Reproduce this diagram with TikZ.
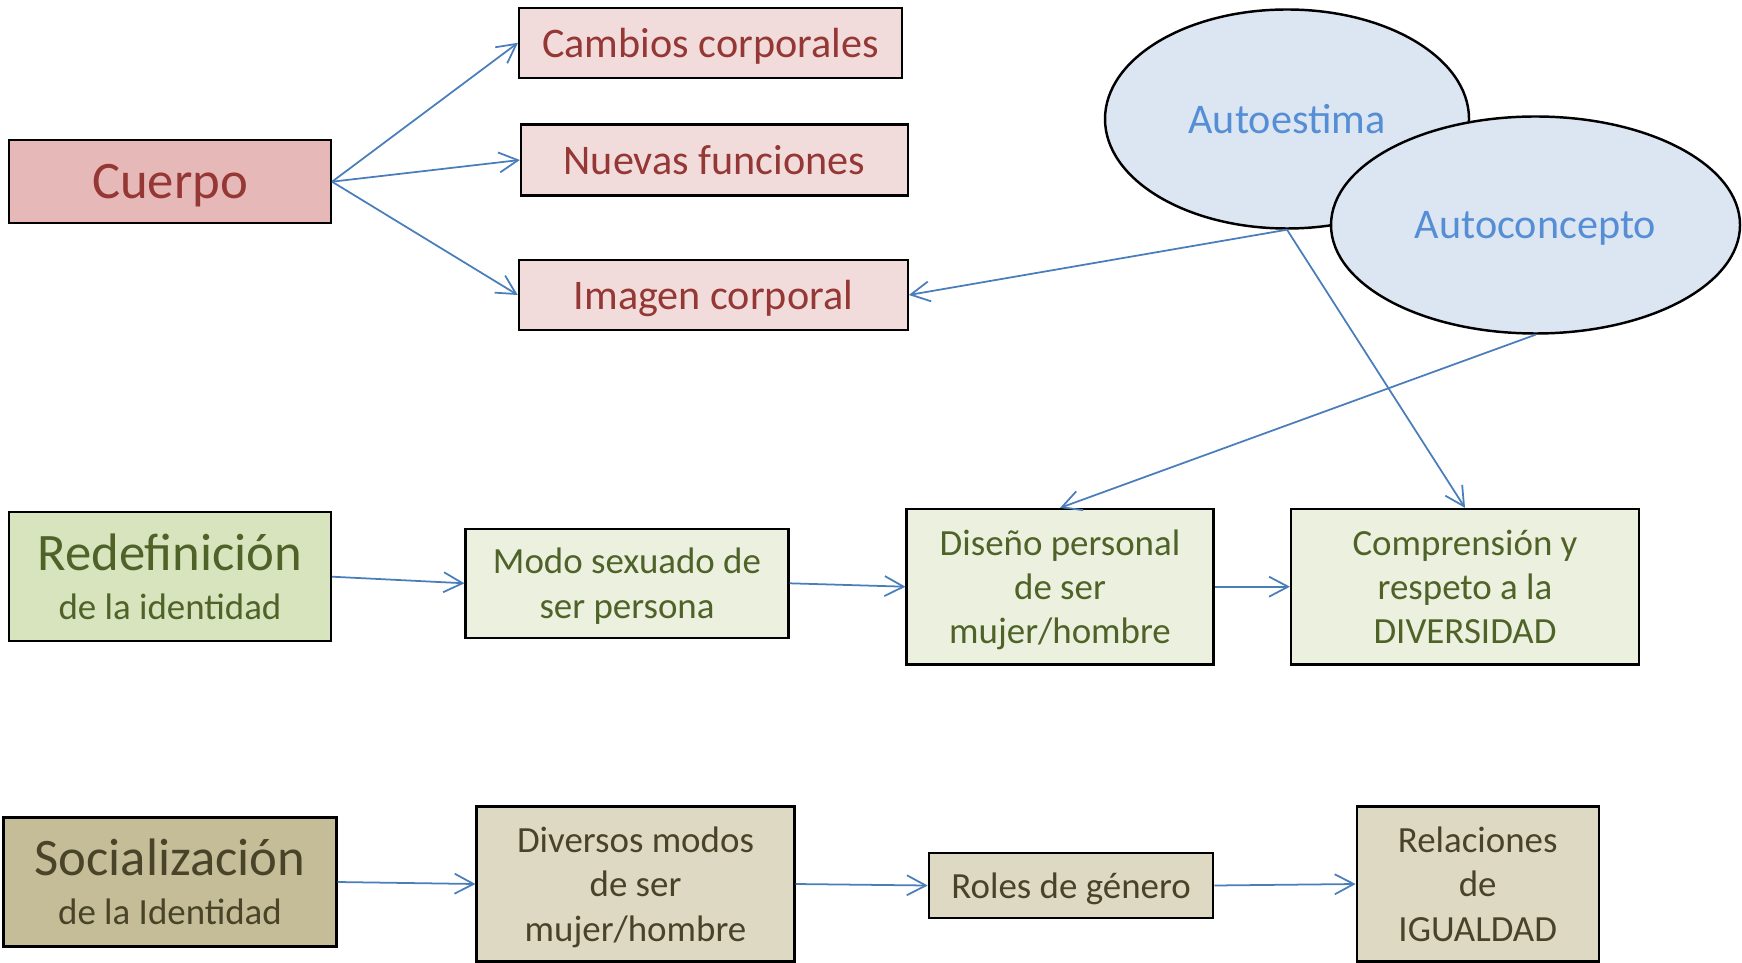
\documentclass[tikz,border=0pt]{standalone}
\usepackage{fontspec}
\setmainfont{Carlito}
\usetikzlibrary{shapes.geometric,arrows.meta}

\definecolor{rosafuerte}{HTML}{E6B9B8}
\definecolor{rosaclaro}{HTML}{F2DCDB}
\definecolor{rojotexto}{HTML}{953735}
\definecolor{verdefuerte}{HTML}{D7E4BD}
\definecolor{verdeclaro}{HTML}{EBF1DE}
\definecolor{verdetexto}{HTML}{4F6228}
\definecolor{tostadofuerte}{HTML}{C4BD97}
\definecolor{tostadoclaro}{HTML}{DDD9C3}
\definecolor{tostadotexto}{HTML}{494429}
\definecolor{azulrelleno}{HTML}{DCE6F2}
\definecolor{azultexto}{HTML}{558ED5}
\definecolor{azulflecha}{HTML}{4A7EBB}

\begin{document}
\begin{tikzpicture}[
    caja/.style={draw=black, line width=0.6pt, inner sep=0pt, align=center, text depth=0pt},
    grande/.style={font=\fontsize{15}{18}\selectfont},
    chico/.style={font=\fontsize{10.5}{12.6}\selectfont},
    rosa/.style={caja, fill=rosaclaro, text=rojotexto, font=\fontsize{12}{14.4}\selectfont},
    verde/.style={caja, chico, fill=verdeclaro, text=verdetexto},
    tostado/.style={caja, chico, fill=tostadoclaro, text=tostadotexto},
    burbuja/.style={ellipse, draw=black, line width=0.7pt, fill=azulrelleno, text=azultexto, inner sep=0pt, text depth=0pt, font=\fontsize{12}{14.4}\selectfont},
    flecha/.style={draw=azulflecha, line width=0.5pt, -{Straight Barb[length=1.9mm,width=2mm]}}
]
        \useasboundingbox (0,0) rectangle (17.42,-9.62);

        % Cuerpo and its boxes
        \node[caja, grande, fill=rosafuerte, text=rojotexto, minimum width=3.22cm, minimum height=0.83cm] (cuerpo) at (1.70,-1.817) {Cuerpo};
        \node[rosa, minimum width=3.83cm, minimum height=0.70cm] (cambios) at (7.105,-0.428) {Cambios corporales};
        \node[rosa, minimum width=3.87cm, minimum height=0.71cm] (nuevas) at (7.144,-1.60) {Nuevas funciones};
        \node[rosa, minimum width=3.89cm, minimum height=0.70cm] (imagen) at (7.133,-2.95) {Imagen corporal};

        % Autoestima and autoconcepto
        \node[burbuja, minimum width=3.64cm, minimum height=2.19cm] (autoestima) at (12.87,-1.19) {Autoestima};
        \node[burbuja, minimum width=4.09cm, minimum height=2.17cm] (autoconcepto) at (15.355,-2.25) {Autoconcepto};

        % Redefinicion de la identidad
        \node[caja, grande, fill=verdefuerte, text=verdetexto, minimum width=3.22cm, minimum height=1.29cm] (redefinicion) at (1.70,-5.767) {Redefinición\\[-4pt]{\fontsize{10.5}{12.6}\selectfont de la identidad}};
        \node[verde, minimum width=3.23cm, minimum height=1.09cm] (modo) at (6.27,-5.833) {Modo sexuado de\\ser persona};
        \node[verde, minimum width=3.07cm, minimum height=1.555cm] (diseno) at (10.60,-5.867) {Diseño personal\\de ser\\mujer/hombre};
        \node[verde, minimum width=3.48cm, minimum height=1.555cm] (comprension) at (14.65,-5.867) {Comprensión y\\respeto a la\\DIVERSIDAD};

        % Socializacion de la identidad
        \node[caja, grande, fill=tostadofuerte, text=tostadotexto, minimum width=3.33cm, minimum height=1.29cm] (socializacion) at (1.70,-8.82) {Socialización\\[-4pt]{\fontsize{10.5}{12.6}\selectfont de la Identidad}};
        \node[tostado, minimum width=3.18cm, minimum height=1.55cm] (diversos) at (6.355,-8.84) {Diversos modos\\de ser\\mujer/hombre};
        \node[tostado, minimum width=2.845cm, minimum height=0.644cm] (roles) at (10.71,-8.855) {Roles de género};
        \node[tostado, minimum width=2.42cm, minimum height=1.55cm] (relaciones) at (14.777,-8.84) {Relaciones\\de\\IGUALDAD};

        % Arrows from cuerpo
        \foreach \destino in {cambios, nuevas, imagen} {
            \draw[flecha] (cuerpo.east) -- (\destino.west);
        }

        % Arrows from the bubbles
        \draw[flecha] (autoestima.south) -- (imagen.east);
        \draw[flecha] (autoestima.south) -- (comprension.north);
        \draw[flecha] (autoconcepto.south) -- (diseno.north);

        % Arrows along the rows
        \foreach \desde/\hasta in {redefinicion/modo, modo/diseno, diseno/comprension, socializacion/diversos, diversos/roles, roles/relaciones} {
            \draw[flecha] (\desde.east) -- (\hasta.west);
        }
\end{tikzpicture}
\end{document}
